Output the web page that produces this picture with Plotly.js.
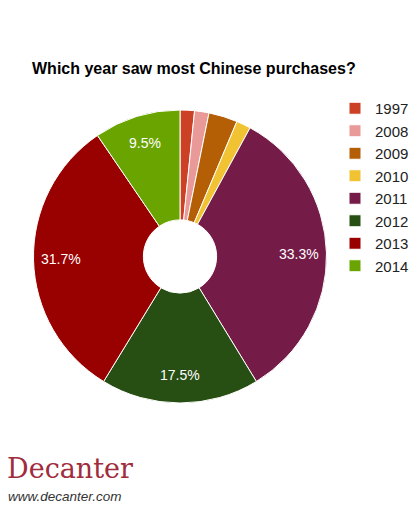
<!DOCTYPE html>
<html>
<head>
<meta charset="utf-8">
<script src="https://cdn.plot.ly/plotly-3.0.1.min.js"></script>
<style>
  html, body { margin: 0; padding: 0; background: #fff; }
  #plot { width: 414px; height: 514px; }
</style>
</head>
<body>
<div id="plot"></div>
<script>
// Survey answers (count of respondents per year)
var years = ["1997", "2008", "2009", "2010", "2011", "2012", "2013", "2014"];
var counts = [1, 1, 2, 1, 21, 11, 20, 6];
var sliceColors = ["#cc4125", "#ea9999", "#b45f06", "#f1c232", "#741b47", "#274e13", "#990000", "#6aa400"];

var W = 414, H = 514;
// pie placement (pixels)
var cx = 180, cy = 256.5, R = 146.5;

var total = counts.reduce(function (a, b) { return a + b; }, 0);

// percentage labels placed out toward the rim, like the original (small slices unlabelled)
var sliceLabels = [];
var cum = 0;
counts.forEach(function (c) {
  var mid = (cum + c / 2) / total * 2 * Math.PI;
  cum += c;
  var p = c / total * 100;
  if (p < 5) return;
  sliceLabels.push({
    text: p.toFixed(1) + "%",
    xref: "paper", yref: "paper",
    x: (cx + 0.81 * R * Math.sin(mid)) / W,
    y: 1 - (cy - 0.81 * R * Math.cos(mid)) / H,
    xanchor: "center", yanchor: "middle",
    showarrow: false,
    font: { family: "Liberation Sans, Arial, sans-serif", size: 14, color: "#ffffff" }
  });
});

var trace = {
  type: "pie",
  labels: years,
  values: counts,
  textinfo: "none",
  marker: { colors: sliceColors, line: { color: "#ffffff", width: 1 } },
  hole: 0.25,
  sort: false,
  direction: "clockwise",
  rotation: 0,
  domain: { x: [(cx - R) / W, (cx + R) / W], y: [1 - (cy + R) / H, 1 - (cy - R) / H] },
  hoverinfo: "label+percent"
};

var layout = {
  width: W,
  height: H,
  margin: { l: 0, r: 0, t: 0, b: 0 },
  paper_bgcolor: "#ffffff",
  font: { family: "Liberation Sans, Arial, sans-serif", color: "#222222" },
  title: {
    text: "<b>Which year saw most Chinese purchases?</b>",
    font: { size: 16, color: "#000000" },
    x: 32 / W, xanchor: "left",
    y: 1 - 68 / H, yanchor: "middle"
  },
  showlegend: true,
  legend: {
    x: 335 / W, xanchor: "left",
    y: 1 - 92 / H, yanchor: "top",
    font: { size: 15, color: "#222222" },
    itemwidth: 30
  },
  annotations: sliceLabels.concat([
    {
      text: "Decanter",
      xref: "paper", yref: "paper",
      x: 5 / W, y: 1 - 468 / H,
      xanchor: "left", yanchor: "middle",
      showarrow: false,
      font: { family: "DejaVu Serif, serif", size: 27, color: "#a02c3c" }
    },
    {
      text: "<i>www.decanter.com</i>",
      xref: "paper", yref: "paper",
      x: 6 / W, y: 1 - 496 / H,
      xanchor: "left", yanchor: "middle",
      showarrow: false,
      font: { family: "Liberation Sans, Arial, sans-serif", size: 13.5, color: "#333333" }
    }
  ])
};

Plotly.newPlot("plot", [trace], layout, { displayModeBar: false, staticPlot: true });
</script>
</body>
</html>
